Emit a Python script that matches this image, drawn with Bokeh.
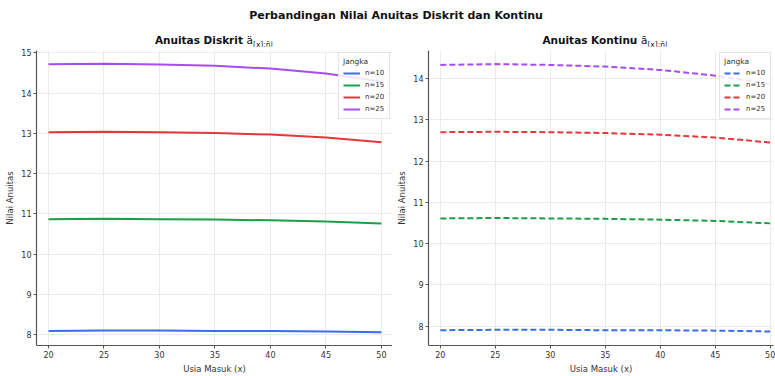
from bokeh.plotting import figure
from bokeh.models import Div, Range1d, FixedTicker, Legend, LegendItem
from bokeh.layouts import column, row
from bokeh.embed import file_html
from bokeh.resources import INLINE

# ---- data ----
ages = [20, 25, 30, 35, 40, 45, 50]
terms = ["n=10", "n=15", "n=20", "n=25"]
colors = ["#3b6fe6", "#1f9e48", "#e0393b", "#a64cf0"]

diskrit_n10 = [8.09, 8.10, 8.10, 8.09, 8.09, 8.08, 8.06]
diskrit_n15 = [10.87, 10.88, 10.87, 10.86, 10.84, 10.81, 10.76]
diskrit_n20 = [13.03, 13.04, 13.03, 13.01, 12.97, 12.90, 12.78]
diskrit_n25 = [14.72, 14.73, 14.71, 14.68, 14.61, 14.49, 14.29]

kontinu_n10 = [7.90, 7.91, 7.91, 7.90, 7.90, 7.89, 7.87]
kontinu_n15 = [10.61, 10.62, 10.61, 10.60, 10.58, 10.55, 10.49]
kontinu_n20 = [12.70, 12.71, 12.70, 12.68, 12.64, 12.57, 12.45]
kontinu_n25 = [14.33, 14.35, 14.33, 14.29, 14.21, 14.07, 13.87]

x_ticks = [20, 25, 30, 35, 40, 45, 50]
y_ticks_left = [8, 9, 10, 11, 12, 13, 14, 15]
y_ticks_right = [8, 9, 10, 11, 12, 13, 14]

suptitle = "Perbandingan Nilai Anuitas Diskrit dan Kontinu"
xlabel = "Usia Masuk (x)"
ylabel = "Nilai Anuitas"
legend_title = "Jangka"

FONT = "DejaVu Sans"


def make_fig(width, border_left, border_right, xrange, yrange, yticks, series, dash):
    p = figure(width=width, height=330,
               x_range=Range1d(*xrange), y_range=Range1d(*yrange),
               output_backend="svg", toolbar_location=None,
               min_border_left=border_left, min_border_right=border_right,
               min_border_top=4, min_border_bottom=28)
    p.outline_line_color = None
    p.background_fill_color = "white"
    p.xaxis.ticker = FixedTicker(ticks=x_ticks)
    p.yaxis.ticker = FixedTicker(ticks=yticks)
    for g in (p.xgrid, p.ygrid):
        g.grid_line_color = "#ebebeb"
        g.grid_line_width = 1
    p.xgrid.ticker = FixedTicker(ticks=x_ticks)
    p.ygrid.ticker = FixedTicker(ticks=yticks)
    for ax in p.axis:
        ax.axis_line_color = "#555555"
        ax.axis_line_width = 1.2
        ax.major_tick_line_color = "#555555"
        ax.major_tick_out = 3
        ax.major_tick_in = 0
        ax.minor_tick_line_color = None
        ax.major_label_text_font = FONT
        ax.major_label_text_font_size = "8px"
        ax.major_label_text_color = "#333333"
        ax.major_label_standoff = 2
        ax.axis_label_text_font = FONT
        ax.axis_label_text_font_size = "8.5px"
        ax.axis_label_text_font_style = "normal"
        ax.axis_label_text_color = "#333333"
        ax.axis_label_standoff = 3
    p.xaxis.axis_label = xlabel
    p.yaxis.axis_label = ylabel

    items = []
    for name, col, ys in zip(terms, colors, series):
        r = p.line(ages, ys, line_color=col, line_width=2, line_dash=dash)
        items.append(LegendItem(label=name, renderers=[r]))
    leg = Legend(items=items, location="top_right", title=legend_title)
    leg.title_text_font = FONT
    leg.title_text_font_size = "7.5px"
    leg.title_text_font_style = "normal"
    leg.title_text_color = "#333333"
    leg.title_standoff = 2
    leg.label_text_font = FONT
    leg.label_text_font_size = "7px"
    leg.label_text_color = "#333333"
    leg.label_height = 10
    leg.glyph_height = 10
    leg.glyph_width = 17
    leg.spacing = 2
    leg.padding = 4
    leg.margin = 2
    leg.border_line_color = "#cccccc"
    leg.background_fill_alpha = 0.85
    p.add_layout(leg, "center")
    return p


p1 = make_fig(392, 36, 0, (18.92, 51.0), (7.73, 15.06), y_ticks_left,
              [diskrit_n10, diskrit_n15, diskrit_n20, diskrit_n25], "solid")
p2 = make_fig(383, 36, 2, (18.92, 50.3), (7.53, 14.68), y_ticks_right,
              [kontinu_n10, kontinu_n15, kontinu_n20, kontinu_n25], "6 3")

sub_style = "font-size:7.5px;font-weight:normal;"
header_html = (
    f'<div style="position:relative;width:775px;height:46px;font-family:\'{FONT}\';color:#111;">'
    f'<div style="position:absolute;left:96px;width:600px;top:8px;text-align:center;'
    f'font-weight:bold;font-size:11px;">{suptitle}</div>'
    f'<div style="position:absolute;left:64px;width:300px;top:33px;text-align:center;'
    f'font-weight:bold;font-size:10.5px;">Anuitas Diskrit <span style="font-weight:normal">ä</span>'
    f'<sub style="{sub_style}">[x]:n̄|</sub></div>'
    f'<div style="position:absolute;left:455px;width:300px;top:33px;text-align:center;'
    f'font-weight:bold;font-size:10.5px;">Anuitas Kontinu <span style="font-weight:normal">ā</span>'
    f'<sub style="{sub_style}">[x]:n̄|</sub></div>'
    f'</div>'
)
header = Div(text=header_html, width=775, height=46, margin=(0, 0, 0, 0))

layout = column(header, row(p1, p2, spacing=0), spacing=0)

open("out.html", "w").write(file_html(layout, INLINE))
